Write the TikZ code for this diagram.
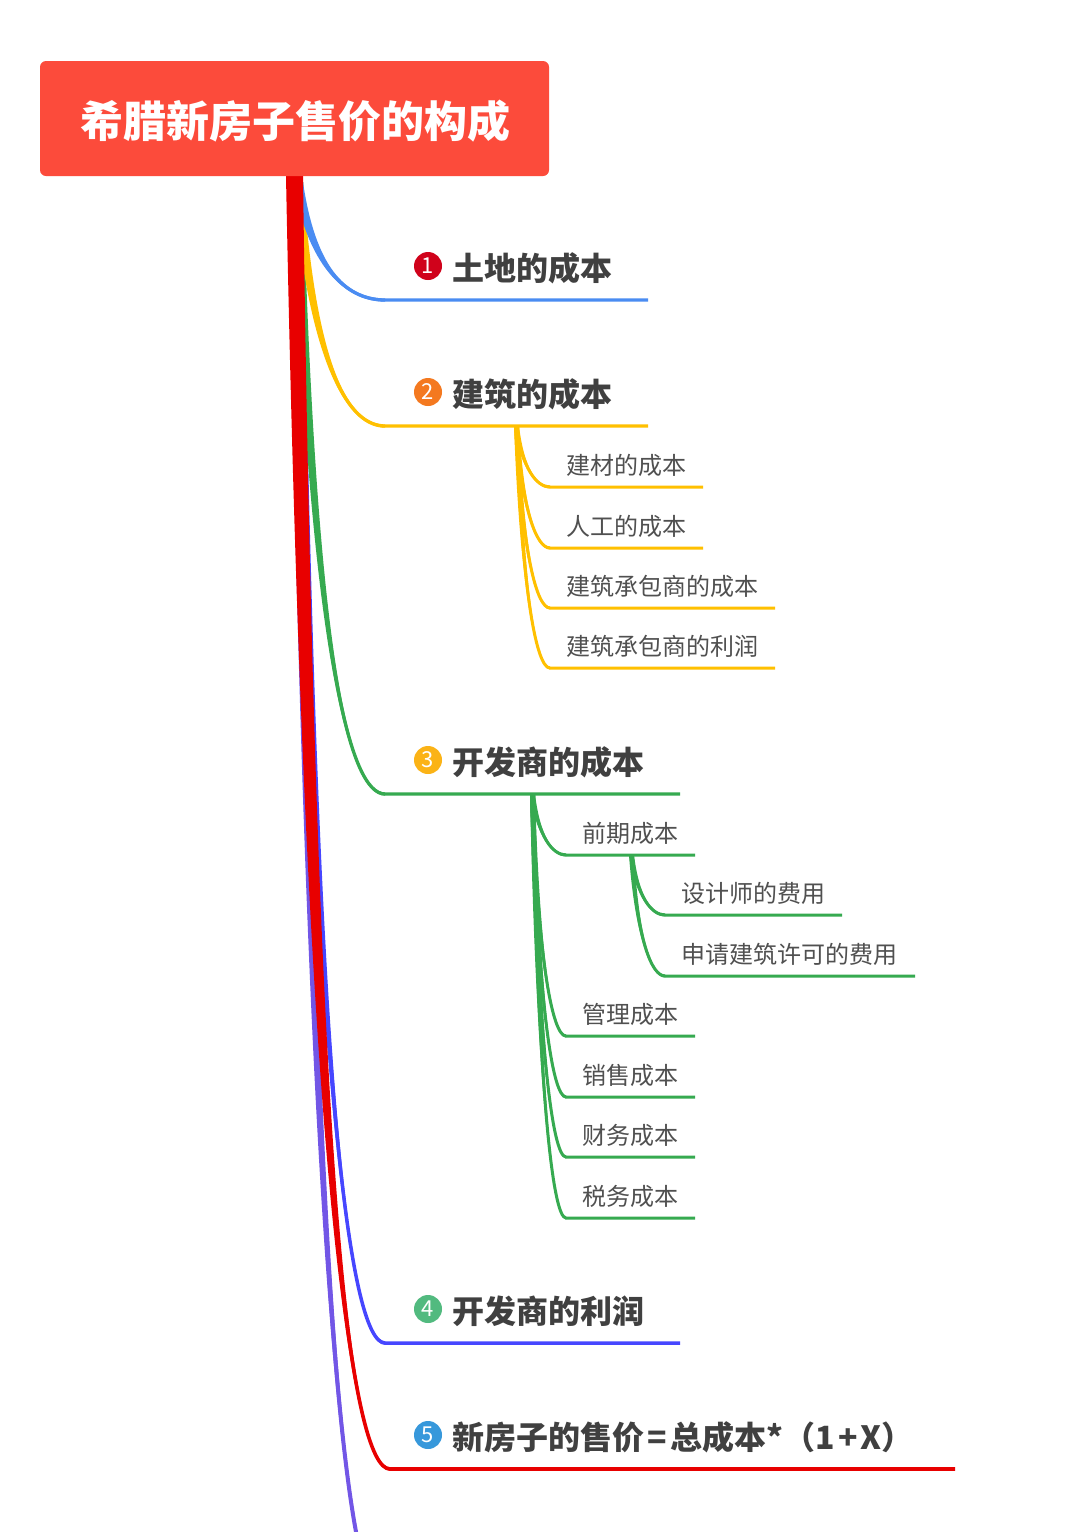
\documentclass[tikz,border=0pt]{standalone}
\usepackage{fontspec}
\setmainfont{Noto Sans CJK SC}
\usetikzlibrary{calc}
\definecolor{titlered}{HTML}{FC4B3B}
\definecolor{cBlue}{HTML}{4A8CF2}
\definecolor{cYellow}{HTML}{FFC000}
\definecolor{cGreen}{HTML}{36AA50}
\definecolor{cViolet}{HTML}{4646FF}
\definecolor{cRed}{HTML}{E80000}
\definecolor{cPurple}{HTML}{7256E6}
\definecolor{txtmain}{HTML}{404040}
\definecolor{txtsub}{HTML}{505050}
\definecolor{iA}{HTML}{D0021B}
\definecolor{iB}{HTML}{F47920}
\definecolor{iC}{HTML}{FBB316}
\definecolor{iD}{HTML}{52BA7F}
\definecolor{iE}{HTML}{3798DB}
\newcommand\mkbranch[7]{%
  \coordinate (#1-s) at (#2,#3);
  \coordinate (#1-a) at ({#2+0.17*(#4-#2)},{#5-#7*(#5-#3)});
  \coordinate (#1-b) at ({#2+0.6*(#4-#2)},#5);
  \coordinate (#1-e) at (#4,#5);
  \coordinate (#1-t) at (#6,#5);
}
\newcommand\taper[5]{%
  \fill[#1] ($(#2-s)+(-#3/2,0)$) .. controls ($(#2-a)+(-#4/2,0)$) and ($(#2-b)+(0,#5/2)$) .. ($(#2-e)+(0,#5/2)$)
     -- ($(#2-e)+(0,-#5/2)$) .. controls ($(#2-b)+(0,-#5/2)$) and ($(#2-a)+(#4/2,0)$) .. ($(#2-s)+(#3/2,0)$) -- cycle;
  \draw[#1, line width=#5] (#2-s) .. controls (#2-a) and (#2-b) .. (#2-e) -- (#2-t);
}
\tikzset{
  titlebox/.style={rectangle, rounded corners=6pt, fill=titlered, minimum width=509, minimum height=115, inner sep=0},
  titletext/.style={text=white, font=\bfseries\fontsize{43}{52}\selectfont, inner sep=0},
  mainlbl/.style={anchor=base west, inner sep=0, text=txtmain, font=\bfseries\fontsize{32}{38}\selectfont},
  sublbl/.style={anchor=base west, inner sep=0, text=txtsub, font=\fontsize{24}{29}\selectfont},
  icon/.style={circle, inner sep=0, minimum size=28, text=white, font=\fontsize{22}{22}\selectfont},
}
\begin{document}
\begin{tikzpicture}[x=1pt,y=-1pt]
\useasboundingbox (0,0) rectangle (1080,1532);
\fill[white] (0,0) rectangle (1080,1532);
\clip (0,0) rectangle (1080,1532);
% main branches
\mkbranch{bF}{294.5}{176}{383}{1600}{700}{0.22}
\mkbranch{bD}{298}{182}{385}{1343}{680}{0.22}
\mkbranch{bC}{298}{182}{385}{794}{680}{0.22}
\mkbranch{bB}{298}{182}{385}{426}{648}{0.22}
\mkbranch{bA}{298}{182}{385}{300}{648}{0.22}
\mkbranch{bE}{294.5}{176}{390}{1469}{955}{0.22}
% yellow sub-branches
\mkbranch{yA}{516.5}{426}{550}{487}{703}{0.3}
\mkbranch{yB}{516.5}{426}{550}{548}{703}{0.3}
\mkbranch{yC}{516.5}{426}{550}{608}{775}{0.3}
\mkbranch{yD}{516.5}{426}{550}{668}{775}{0.3}
% green sub-branches
\mkbranch{gA}{532.5}{794}{566}{855}{695}{0.3}
\mkbranch{gB}{532.5}{794}{566}{1036}{695}{0.3}
\mkbranch{gC}{532.5}{794}{566}{1097}{695}{0.3}
\mkbranch{gD}{532.5}{794}{566}{1157}{695}{0.3}
\mkbranch{gE}{532.5}{794}{566}{1218}{695}{0.3}
\mkbranch{hA}{631.5}{855}{665}{915}{842}{0.3}
\mkbranch{hB}{631.5}{855}{665}{976}{915}{0.3}

\taper{cPurple}{bF}{12}{8}{4}
\taper{cViolet}{bD}{10}{7}{3.5}
\taper{cGreen}{bC}{10}{7}{3.3}
\taper{cGreen}{gE}{5}{4}{3}
\taper{cGreen}{gD}{5}{4}{3}
\taper{cGreen}{gC}{5}{4}{3}
\taper{cGreen}{gB}{5}{4}{3}
\taper{cGreen}{gA}{5}{4}{3}
\taper{cGreen}{hB}{5}{4}{3}
\taper{cGreen}{hA}{5}{4}{3}
\taper{cYellow}{bB}{10}{7}{3.3}
\taper{cYellow}{yD}{5}{4}{3}
\taper{cYellow}{yC}{5}{4}{3}
\taper{cYellow}{yB}{5}{4}{3}
\taper{cYellow}{yA}{5}{4}{3}
\taper{cBlue}{bA}{10}{7}{3.3}
\taper{cRed}{bE}{17}{11}{3.6}

% title
\node[titlebox] (T) at (294.5,118.5) {};
\node[titletext] (Tt) at (295,121) {希腊新房子售价的构成};

% icons
\node[icon, fill=iA] (kA) at (428,266) {1};
\node[icon, fill=iB] (kB) at (428,392) {2};
\node[icon, fill=iC] (kC) at (428,760) {3};
\node[icon, fill=iD] (kD) at (428,1309) {4};
\node[icon, fill=iE] (kE) at (428,1435) {5};

% main labels
\node[mainlbl] (lA) at (452,280) {土地的成本};
\node[mainlbl] (lB) at (452,406) {建筑的成本};
\node[mainlbl] (lC) at (452,774) {开发商的成本};
\node[mainlbl] (lD) at (452,1323) {开发商的利润};
\node[mainlbl] (lE) at (452,1449) {新房子的售价\kern3pt=\kern4pt 总成本*（1\kern3pt+\kern3pt X）};

% sub labels
\node[sublbl] (sA) at (566,474) {建材的成本};
\node[sublbl] (sB) at (566,535) {人工的成本};
\node[sublbl] (sC) at (566,595) {建筑承包商的成本};
\node[sublbl] (sD) at (566,655) {建筑承包商的利润};
\node[sublbl] (tA) at (582,842) {前期成本};
\node[sublbl] (uA) at (681,902) {设计师的费用};
\node[sublbl] (uB) at (681,963) {申请建筑许可的费用};
\node[sublbl] (tB) at (582,1023) {管理成本};
\node[sublbl] (tC) at (582,1084) {销售成本};
\node[sublbl] (tD) at (582,1144) {财务成本};
\node[sublbl] (tE) at (582,1205) {税务成本};
\end{tikzpicture}
\end{document}
